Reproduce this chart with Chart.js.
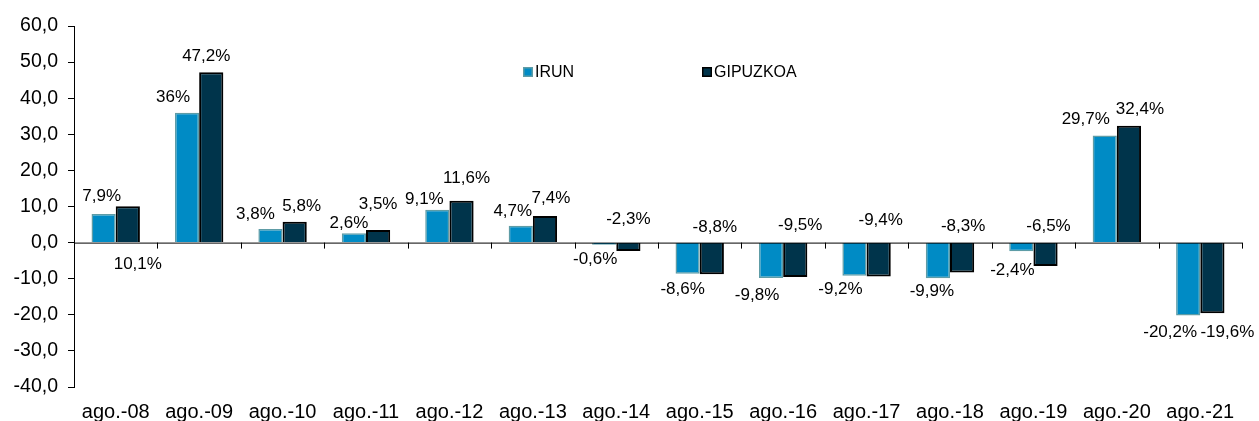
<!DOCTYPE html>
<html>
<head>
<meta charset="utf-8">
<script src="https://cdn.jsdelivr.net/npm/chart.js@4/dist/chart.umd.min.js"></script>
<style>
  html, body { margin: 0; padding: 0; background: #fff; }
  #wrap { width: 1259px; height: 421px; position: relative; }
</style>
</head>
<body>
<div id="wrap"><canvas id="chart"></canvas></div>
<script>
const CATEGORIES = ['ago.-08', 'ago.-09', 'ago.-10', 'ago.-11', 'ago.-12', 'ago.-13', 'ago.-14',
  'ago.-15', 'ago.-16', 'ago.-17', 'ago.-18', 'ago.-19', 'ago.-20', 'ago.-21'];
const IRUN = [7.9, 36, 3.8, 2.6, 9.1, 4.7, -0.6, -8.6, -9.8, -9.2, -9.9, -2.4, 29.7, -20.2];
const GIPUZKOA = [10.1, 47.2, 5.8, 3.5, 11.6, 7.4, -2.3, -8.8, -9.5, -9.4, -8.3, -6.5, 32.4, -19.6];
const Y_MIN = -40, Y_MAX = 60, Y_STEP = 10;

// label placement, pixels from the end of each bar (Excel put them by hand)
const IRUN_LABEL_OFFSET = [[-2, -18], [-14, -15], [-15, -15], [-5, -10], [-13, -10], [-8, -14], [-9, 15],
  [-5, 16], [-14, 17], [-14, 14], [-6, 13], [-9, 19], [-19, -16], [-18, 17]];
const GIP_LABEL_OFFSET = [[10, 58], [-5, -16], [7, -15], [0, -26], [5, -22], [6, -18], [0, -32],
  [3, -47], [5, -52], [2, -56], [1, -46], [3, -40], [11, -16], [15, 19]];

const FONT = '"Liberation Sans", Arial, sans-serif';

const fmtPct = v => (Number.isInteger(v) ? String(v) : v.toFixed(1).replace('.', ',')) + '%';

const extras = {
  id: 'extras',
  afterDatasetsDraw(chart) {
    const { ctx, scales: { x, y } } = chart;
    ctx.save();

    // zero line + category tick marks
    const y0 = y.getPixelForValue(0);
    ctx.strokeStyle = '#000';
    ctx.lineWidth = 1;
    ctx.beginPath();
    ctx.moveTo(x.left, y0 + 0.5);
    ctx.lineTo(x.right, y0 + 0.5);
    for (let i = 0; i <= CATEGORIES.length; i++) {
      const px = Math.round(x.getPixelForValue(i - 0.5)) + 0.5;
      ctx.moveTo(px, y0);
      ctx.lineTo(px, y0 + 6);
    }
    ctx.stroke();

    // data labels
    ctx.fillStyle = '#000';
    ctx.font = '17px ' + FONT;
    ctx.textAlign = 'center';
    ctx.textBaseline = 'middle';
    const offsets = [IRUN_LABEL_OFFSET, GIP_LABEL_OFFSET];
    chart.data.datasets.forEach((ds, di) => {
      chart.getDatasetMeta(di).data.forEach((bar, i) => {
        const [dx, dy] = offsets[di][i];
        ctx.fillText(fmtPct(ds.data[i]), bar.x + dx, bar.y + dy);
      });
    });

    // legend
    const legendX = [523, 702];
    ctx.font = '16px ' + FONT;
    ctx.textAlign = 'left';
    chart.data.datasets.forEach((ds, di) => {
      const lx = legendX[di], ly = 72;
      ctx.fillStyle = ds.backgroundColor;
      ctx.fillRect(lx, ly - 5, 10, 10);
      ctx.strokeStyle = ds.borderColor;
      ctx.lineWidth = 1.5;
      ctx.strokeRect(lx + 0.75, ly - 4.25, 8.5, 8.5);
      ctx.fillStyle = '#000';
      ctx.fillText(ds.label, lx + 12, ly + 1);
    });
    ctx.restore();
  }
};

new Chart(document.getElementById('chart'), {
  type: 'bar',
  data: {
    labels: CATEGORIES,
    datasets: [
      { label: 'IRUN', data: IRUN, backgroundColor: '#008bc5', borderColor: '#5e9ca6', borderWidth: 1.5 },
      { label: 'GIPUZKOA', data: GIPUZKOA, backgroundColor: '#00344b', borderColor: '#000', borderWidth: 2 }
    ]
  },
  options: {
    responsive: true,
    maintainAspectRatio: false,
    animation: false,
    layout: { padding: { top: 26, right: 17, left: 0, bottom: 0 } },
    datasets: { bar: { categoryPercentage: 0.58, barPercentage: 1.0 } },
    plugins: { legend: { display: false }, tooltip: { enabled: false } },
    scales: {
      x: {
        grid: { display: false, drawTicks: false },
        border: { display: false },
        ticks: { color: '#000', font: { family: FONT, size: 20 }, padding: 13, maxRotation: 0, autoSkip: false },
        afterFit: s => { s.height = 34; }
      },
      y: {
        min: Y_MIN, max: Y_MAX,
        grid: { color: 'transparent', tickColor: '#000', tickLength: 6 },
        border: { display: true, color: '#000' },
        ticks: {
          stepSize: Y_STEP, color: '#000', padding: 10,
          font: { family: FONT, size: 19.5 },
          callback: v => v.toFixed(1).replace('.', ',')
        },
        afterFit: s => { s.width = 74; }
      }
    }
  },
  plugins: [extras]
});
</script>
</body>
</html>
